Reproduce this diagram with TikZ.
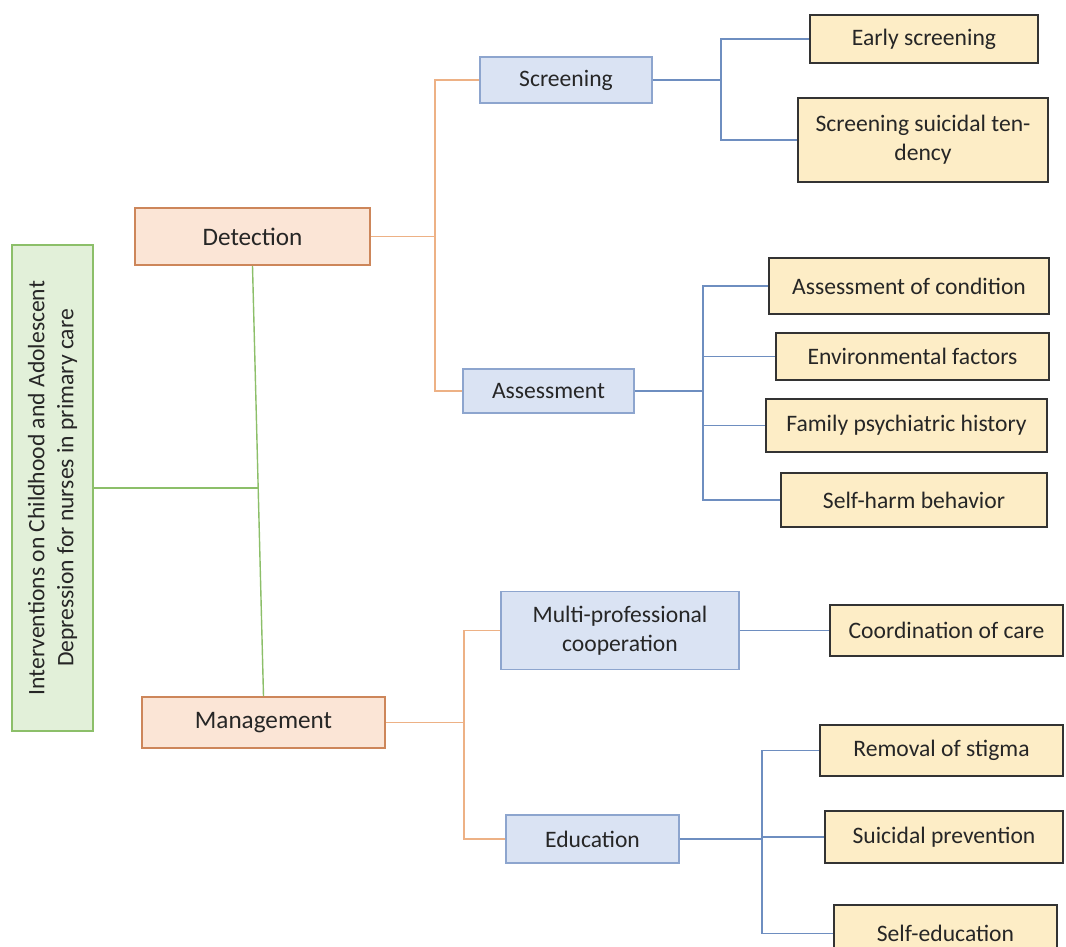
\documentclass[tikz,border=0pt]{standalone}
\usepackage{fontspec}
\setmainfont{Carlito}
\usepackage{tikz}
\usetikzlibrary{calc}

\definecolor{verdeFondo}{HTML}{E2F0D9}
\definecolor{verdeBorde}{HTML}{8CBF69}
\definecolor{naranjaFondo}{HTML}{FBE5D6}
\definecolor{naranjaBorde}{HTML}{CD865A}
\definecolor{naranjaRama}{HTML}{EDB185}
\definecolor{azulFondo}{HTML}{DAE3F3}
\definecolor{azulBorde}{HTML}{8DA5CE}
\definecolor{azulRama}{HTML}{6E8EC0}
\definecolor{amarilloFondo}{HTML}{FDEDC6}
\definecolor{grisTexto}{HTML}{262626}

\begin{document}
\begin{tikzpicture}[
    x=0.5pt, y=-0.5pt,
    % Estilo base de todas las cajas
    caja/.style={rectangle, inner sep=2pt, text=grisTexto, font=\fontsize{11.8}{14.5}\selectfont, align=center, line width=0.8pt},
    % Raiz, primer nivel, segundo nivel y hojas
    cajaRaiz/.style={caja, fill=verdeFondo, draw=verdeBorde, rotate=90},
    cajaNivel/.style={caja, fill=naranjaFondo, draw=naranjaBorde, font=\fontsize{12.6}{15}\selectfont},
    cajaSub/.style={caja, fill=azulFondo, draw=azulBorde},
    cajaHoja/.style={caja, fill=amarilloFondo, draw=black!80},
    % Ramas del arbol
    ramaVerde/.style={draw=verdeBorde, line width=0.7pt},
    ramaNaranja/.style={draw=naranjaRama, line width=0.7pt},
    ramaAzul/.style={draw=azulRama, line width=0.7pt}
]
    \useasboundingbox (0,0) rectangle (1066,947);

    % --- RAIZ ---
    \node[cajaRaiz, minimum width=243pt, minimum height=40.5pt] (raiz) at (52.5,488)
        {Interventions on Childhood and Adolescent\\Depression for nurses in primary care};

    % --- PRIMER NIVEL ---
    \node[cajaNivel, minimum width=117.5pt, minimum height=28.5pt] (det) at (252.5,236.5) {Detection};
    \node[cajaNivel, minimum width=121.5pt, minimum height=25.5pt] (man) at (263.5,722.5) {Management};

    % --- SEGUNDO NIVEL ---
    \node[cajaSub, minimum width=86pt, minimum height=23pt]   (scr) at (566,80)    {Screening};
    \node[cajaSub, minimum width=85.5pt, minimum height=22pt] (ass) at (548.5,391) {Assessment};
    \node[cajaSub, minimum width=119pt, minimum height=39pt]  (mpc) at (620,630.5) {Multi-professional\\cooperation};
    \node[cajaSub, minimum width=86.5pt, minimum height=24pt] (edu) at (592.5,839) {Education};

    % --- HOJAS ---
    \node[cajaHoja, minimum width=114pt, minimum height=24pt]   (esc) at (924,39)      {Early screening};
    \node[cajaHoja, minimum width=125pt, minimum height=42pt]   (sst) at (923,140)     {Screening suicidal ten-\\dency};
    \node[cajaHoja, minimum width=140pt, minimum height=28pt]   (aoc) at (909,286)     {Assessment of condition};
    \node[cajaHoja, minimum width=136.5pt, minimum height=23.5pt] (env) at (912.5,356.5) {Environmental factors};
    \node[cajaHoja, minimum width=140.5pt, minimum height=26.5pt] (fph) at (906.5,425.5) {Family psychiatric history};
    \node[cajaHoja, minimum width=133pt, minimum height=27pt]   (shb) at (914,500)     {Self-harm behavior};
    \node[cajaHoja, minimum width=116.5pt, minimum height=25.5pt] (coc) at (946.5,630.5) {Coordination of care};
    \node[cajaHoja, minimum width=121.5pt, minimum height=25.5pt] (ros) at (941.5,750.5) {Removal of stigma};
    \node[cajaHoja, minimum width=119pt, minimum height=26pt]   (spr) at (944,837)     {Suicidal prevention};
    \node[cajaHoja, minimum width=111.5pt, minimum height=28.5pt] (sed) at (945.5,933.5) {Self-education};

    % --- PUNTOS DE BIFURCACION ---
    \coordinate (jRaiz) at ($(det.south)!0.52!(man.north)$);
    \coordinate (bDet) at (435,236.5);
    \coordinate (bScr) at (721,80);
    \coordinate (bAss) at (703,391);
    \coordinate (bMan) at (464,722.5);
    \coordinate (bEdu) at (762,839);

    % --- RAMAS VERDES (raiz -> primer nivel) ---
    \draw[ramaVerde] (det.south) -- (man.north);
    \draw[ramaVerde] (raiz.south) -- (raiz.south -| jRaiz);

    % --- RAMAS NARANJAS (primer nivel -> segundo nivel) ---
    \draw[ramaNaranja] (det.east) -- (bDet);
    \draw[ramaNaranja] (scr.west) -| (bDet) |- (ass.west);
    \draw[ramaNaranja] (man.east) -- (bMan);
    \draw[ramaNaranja] (mpc.west) -| (bMan) |- (edu.west);

    % --- RAMAS AZULES (segundo nivel -> hojas) ---
    \draw[ramaAzul] (scr.east) -- (bScr);
    \draw[ramaAzul] (esc.west) -| (bScr) |- (sst.west);
    \draw[ramaAzul] (ass.east) -- (bAss);
    \draw[ramaAzul] (aoc.west) -| (bAss) |- (shb.west);
    \draw[ramaAzul] (bAss |- env.west) -- (env.west);
    \draw[ramaAzul] (bAss |- fph.west) -- (fph.west);
    \draw[ramaAzul] (mpc.east) -- (coc.west);
    \draw[ramaAzul] (edu.east) -- (bEdu);
    \draw[ramaAzul] (ros.west) -| (bEdu) |- (sed.west);
    \draw[ramaAzul] (bEdu |- spr.west) -- (spr.west);

\end{tikzpicture}
\end{document}
